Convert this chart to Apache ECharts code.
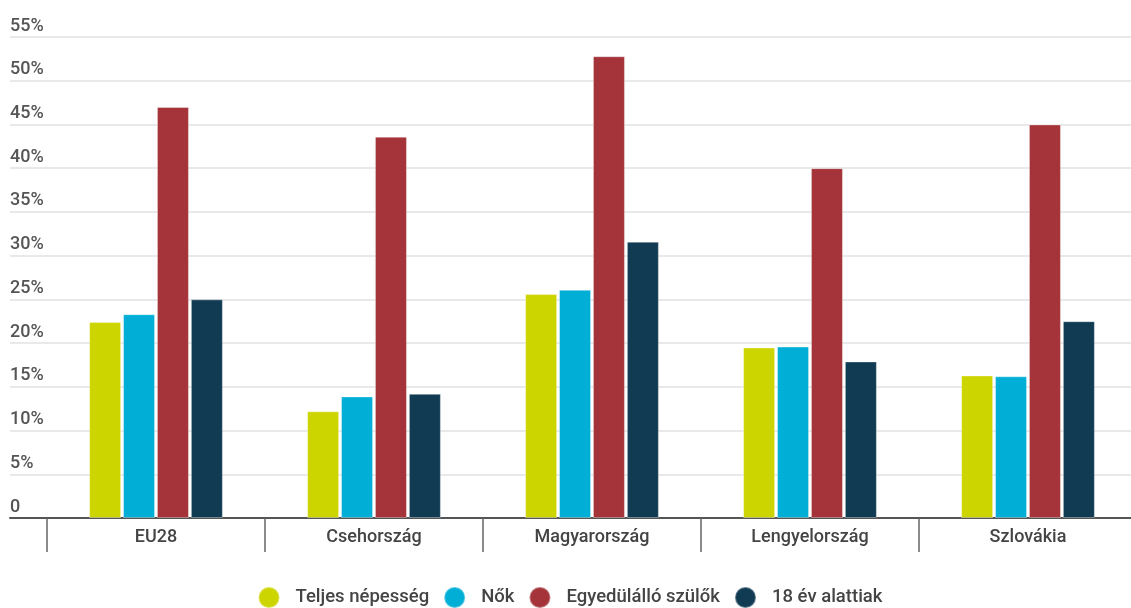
<!DOCTYPE html>
<html>
<head>
<meta charset="utf-8">
<script src="https://cdn.jsdelivr.net/npm/echarts@6/dist/echarts.min.js"></script>
<style>
  html, body { margin: 0; padding: 0; background: #fff; overflow: hidden; }
  #main { width: 1140px; height: 608px; }
</style>
</head>
<body>
<div id="main"></div>
<script>
// categories and series (percent)
var countries = ['EU28', 'Csehország', 'Magyarország', 'Lengyelország', 'Szlovákia'];
var seriesNames = ['Teljes népesség', 'Nők', 'Egyedülálló szülők', '18 év alattiak'];
var teljes = [22.4, 12.2, 25.6, 19.5, 16.3];
var nok = [23.3, 13.9, 26.1, 19.6, 16.2];
var egyedulallo = [47.0, 43.6, 52.8, 40.0, 45.0];
var alattiak = [25.0, 14.2, 31.6, 17.9, 22.5];
var colors = ['#cdd500', '#00aed6', '#a4343a', '#113b53'];

// container is 1140 wide (page is 1131) so the last category can run past the edge
var chart = echarts.init(document.getElementById('main'));
var font = 'Roboto, "Noto Sans", sans-serif';

function bar(name, data, i) {
  return {
    name: name,
    type: 'bar',
    xAxisIndex: 1,
    yAxisIndex: 1,
    data: data,
    barWidth: 32,
    barGap: '6%',
    itemStyle: { color: colors[i], borderColor: 'rgba(255,255,255,0.35)', borderWidth: 1 }
  };
}

var option = {
  animation: false,
  color: colors,
  textStyle: { fontFamily: font },
  grid: [
    { left: 10, right: 9, top: 37, height: 481 },
    { left: 47, width: 1090, top: 37, height: 481 }
  ],
  legend: {
    top: 586,
    left: 'center',
    padding: [0, 14, 0, 5],
    icon: 'circle',
    itemWidth: 21,
    itemHeight: 21,
    itemGap: 14,
    data: seriesNames,
    textStyle: { fontFamily: font, fontSize: 18.5, fontWeight: 500, color: '#444', padding: [0, 0, 0, 11] }
  },
  xAxis: [
    {
      gridIndex: 0,
      type: 'category',
      data: countries,
      axisLine: { show: true, lineStyle: { color: '#555', width: 2 } },
      axisTick: { show: false },
      axisLabel: { show: false },
      splitLine: { show: false }
    },
    {
      gridIndex: 1,
      type: 'category',
      data: countries,
      axisLine: { show: false },
      axisTick: { show: true, length: 34, lineStyle: { color: '#666', width: 1.5 } },
      axisLabel: { fontFamily: font, fontSize: 18, fontWeight: 500, color: '#444', margin: 10 },
      splitLine: { show: false }
    }
  ],
  yAxis: [
    {
      gridIndex: 0,
      type: 'value',
      min: 0,
      max: 55,
      interval: 5,
      axisLine: { show: false },
      axisTick: { show: false },
      axisLabel: {
        align: 'left',
        verticalAlign: 'bottom',
        margin: 0,
        padding: [0, 0, 2, 0],
        fontFamily: font,
        fontSize: 18,
        fontWeight: 500,
        color: '#555',
        formatter: function (v) { return v === 0 ? '0' : v + '%'; }
      },
      splitLine: { show: true, lineStyle: { color: '#e2e2e2', width: 1.5 } }
    },
    {
      gridIndex: 1,
      type: 'value',
      min: 0,
      max: 55,
      interval: 5,
      axisLine: { show: false },
      axisTick: { show: false },
      axisLabel: { show: false },
      splitLine: { show: false }
    }
  ],
  series: [
    bar(seriesNames[0], teljes, 0),
    bar(seriesNames[1], nok, 1),
    bar(seriesNames[2], egyedulallo, 2),
    bar(seriesNames[3], alattiak, 3)
  ]
};
chart.setOption(option);
</script>
</body>
</html>
